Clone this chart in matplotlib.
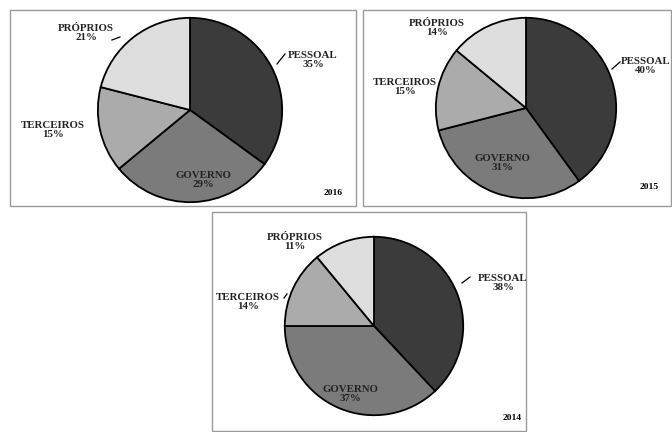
import matplotlib
matplotlib.use("Agg")
import matplotlib.pyplot as plt
from matplotlib.patches import Rectangle

W, H = 672, 432
categories = ["PESSOAL", "GOVERNO", "TERCEIROS", "PRÓPRIOS"]
years = ["2016", "2015", "2014"]
values_2016 = [35, 29, 15, 21]
values_2015 = [40, 31, 15, 14]
values_2014 = [38, 37, 14, 11]
colors = ["#3b3b3b", "#7b7b7b", "#ababab", "#dedede"]

plt.rcParams['font.family'] = ['Liberation Serif', 'DejaVu Serif']

fig = plt.figure(figsize=(W / 100, H / 100), dpi=100)

def fx(x):
    return x / W

def fy(y):
    return 1 - y / H

# panel frames (pixels: left, top, right, bottom)
panels = [(10, 10, 356, 206), (363, 10, 671, 206), (212, 212, 526, 431)]
for l, t, r, b in panels:
    fig.patches.append(Rectangle((fx(l), fy(b)), fx(r - l), (b - t) / H,
                                 transform=fig.transFigure, fill=False,
                                 edgecolor="#9a9a9a", linewidth=1.0))

# pies: centre and radius in pixels
pies = [
    (values_2016, 190, 110, 94),
    (values_2015, 526, 108, 92),
    (values_2014, 374, 326, 91),
]
for vals, cx, cy, r in pies:
    ax = fig.add_axes([fx(cx - r), fy(cy + r), 2 * r / W, 2 * r / H])
    ax.pie(vals, colors=colors, startangle=90, counterclock=False,
           wedgeprops=dict(edgecolor="black", linewidth=1.3))
    ax.set_xlim(-1.02, 1.02)
    ax.set_ylim(-1.02, 1.02)
    ax.set_aspect("equal")
    ax.axis("off")

fs = 7.8
def label(x, y, name, val):
    fig.text(fx(x), fy(y), f"{name}\n{val}%", ha="center", va="center",
             fontsize=fs, fontweight="bold", linespacing=1.1, color="#222222")

def leader(x0, y0, x1, y1):
    fig.add_artist(plt.Line2D([fx(x0), fx(x1)], [fy(y0), fy(y1)],
                              transform=fig.transFigure, color="black", linewidth=0.9))

# 2016
v = values_2016
label(313, 60, categories[0], v[0]); leader(277, 64, 285, 54)
label(203, 180, categories[1], v[1])
label(53, 130, categories[2], v[2])
label(86, 33, categories[3], v[3]); leader(112, 40, 120, 37)
fig.text(fx(333), fy(193), years[0], ha="center", va="center", fontsize=fs - 1, fontweight="bold")

# 2015
v = values_2015
label(646, 66, categories[0], v[0]); leader(612, 69, 620, 62)
label(502, 163, categories[1], v[1])
label(405, 87, categories[2], v[2])
label(437, 28, categories[3], v[3])
fig.text(fx(649), fy(187), years[1], ha="center", va="center", fontsize=fs - 1, fontweight="bold")

# 2014
v = values_2014
label(503, 283, categories[0], v[0]); leader(462, 283, 470, 277)
label(350, 394, categories[1], v[1])
label(248, 302, categories[2], v[2]); leader(284, 298, 287, 294)
label(295, 242, categories[3], v[3])
fig.text(fx(512), fy(418), years[2], ha="center", va="center", fontsize=fs - 1, fontweight="bold")

fig.savefig("out.png", dpi=100)
